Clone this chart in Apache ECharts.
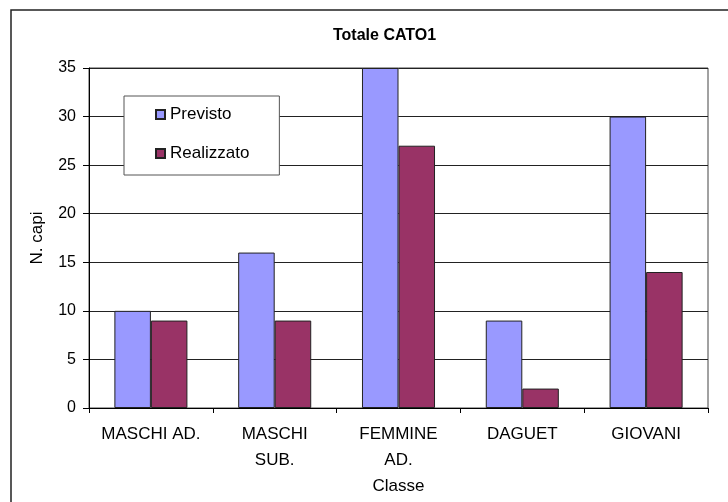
<!DOCTYPE html>
<html>
<head>
<meta charset="utf-8">
<script src="https://cdn.jsdelivr.net/npm/echarts@6/dist/echarts.min.js"></script>
<style>html,body{margin:0;padding:0;background:#fff;}#c{width:728px;height:502px;}</style>
</head>
<body>
<div id="c"></div>
<script>
const categories = ['MASCHI AD.', 'MASCHI\nSUB.', 'FEMMINE\nAD.', 'DAGUET', 'GIOVANI'];
const previsto = [10, 16, 35, 9, 30];
const realizzato = [9, 9, 27, 2, 14];
const yTicks = [0, 5, 10, 15, 20, 25, 30, 35];

const FONT = '"Liberation Sans", Arial, sans-serif';
const chart = echarts.init(document.getElementById('c'), null, {renderer: 'canvas'});
chart.setOption({
  animation: false,
  backgroundColor: '#fff',
  textStyle: {fontFamily: FONT, color: '#000'},
  graphic: [{
    type: 'rect', z: -10, silent: true,
    shape: {x: 11, y: 10, width: 760, height: 520},
    style: {fill: 'none', stroke: '#222', lineWidth: 1.5}
  }],
  title: {
    text: 'Totale CATO1',
    left: 333, top: 28, padding: 0,
    textStyle: {fontFamily: FONT, fontSize: 16, fontWeight: 'bold', color: '#000'}
  },
  legend: {
    orient: 'vertical',
    left: 124, top: 96,
    padding: [10, 30, 13, 31],
    backgroundColor: '#fff',
    borderColor: '#555', borderWidth: 1,
    icon: 'rect', itemWidth: 9, itemHeight: 9, itemGap: 22,
    textStyle: {fontFamily: FONT, fontSize: 17, color: '#000', lineHeight: 16},
    data: ['Previsto', 'Realizzato']
  },
  grid: {
    left: 89, right: 20, top: 68, bottom: 94,
    show: true, borderColor: '#444', borderWidth: 1, backgroundColor: 'transparent'
  },
  xAxis: {
    type: 'category',
    data: categories,
    name: 'Classe', nameLocation: 'middle', nameGap: 70,
    nameTextStyle: {fontFamily: FONT, fontSize: 17, color: '#000'},
    axisLine: {lineStyle: {color: '#000', width: 1}},
    axisTick: {show: true, length: 5, lineStyle: {color: '#000'}},
    axisLabel: {fontFamily: FONT, fontSize: 17, color: '#000', margin: 13, lineHeight: 26, interval: 0},
    splitLine: {show: false}
  },
  yAxis: {
    type: 'value', min: 0, max: 35, interval: 5,
    name: 'N. capi', nameLocation: 'middle', nameGap: 43, nameRotate: 90,
    nameTextStyle: {fontFamily: FONT, fontSize: 17, color: '#000'},
    axisLine: {show: true, lineStyle: {color: '#000', width: 1}},
    axisTick: {show: true, length: 6, lineStyle: {color: '#000'}},
    axisLabel: {fontFamily: FONT, fontSize: 16, color: '#000', margin: 13,
      formatter: v => yTicks.includes(v) ? String(v) : ''},
    splitLine: {show: true, lineStyle: {color: '#222', width: 1}}
  },
  series: [
    {name: 'Previsto', type: 'bar', data: previsto, barGap: '0%', barCategoryGap: '41%',
     itemStyle: {color: '#9999FF', borderColor: '#222', borderWidth: 1}},
    {name: 'Realizzato', type: 'bar', data: realizzato, barGap: '0%', barCategoryGap: '41%',
     itemStyle: {color: '#993366', borderColor: '#222', borderWidth: 1}}
  ]
});
</script>
</body>
</html>
